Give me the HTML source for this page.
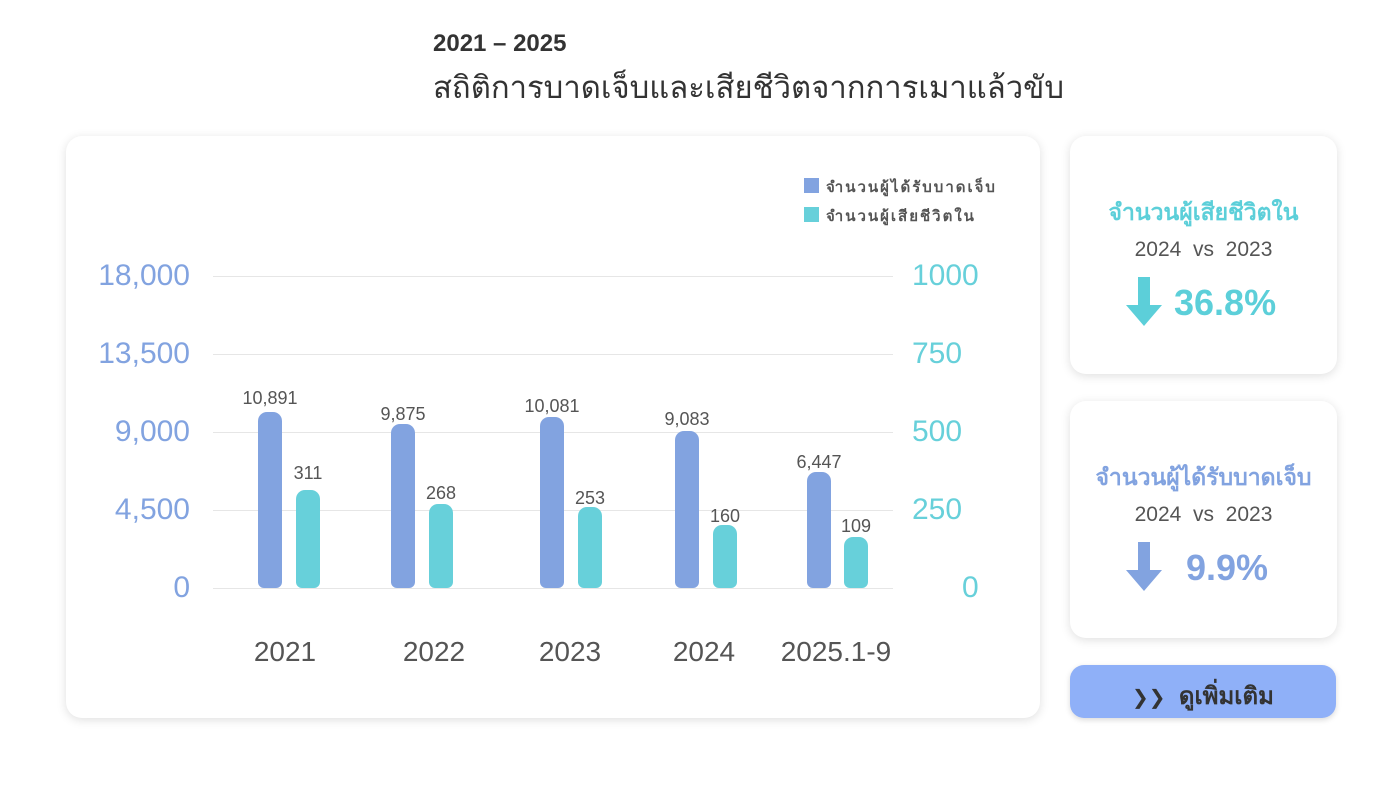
<!DOCTYPE html>
<html><head><meta charset="utf-8"><style>
body{margin:0;width:1400px;height:790px;background:#fff;font-family:"Liberation Sans","DejaVu Sans",sans-serif;position:relative;overflow:hidden}
.a{position:absolute}
.card{position:absolute;background:#fff;border-radius:16px;box-shadow:0 2px 10px rgba(0,0,0,0.13)}
.ly{position:absolute;width:100px;text-align:right;font-size:30px;color:#82a3e0;left:90px}
.ry{position:absolute;font-size:30px;color:#67d0da;left:912px}
.g{position:absolute;left:213px;width:680px;height:1px;background:#e6e6e6}
.b{position:absolute;width:24px;border-radius:9px 9px 6px 6px}
.bl{background:#82a3e0}.tl{background:#67d0da}
.v{position:absolute;font-size:18px;color:#555;width:80px;text-align:center}
.x{position:absolute;font-size:28px;color:#555;width:160px;text-align:center;top:636px}
.ct{position:absolute;width:267px;text-align:center}
</style></head><body>
<div class="a" style="left:433px;top:30px;font-size:24px;font-weight:bold;color:#333">2021 – 2025</div>
<div class="a" style="left:433px;top:62px;font-size:31px;color:#333">สถิติการบาดเจ็บและเสียชีวิตจากการเมาแล้วขับ</div>

<div class="card" style="left:66px;top:136px;width:974px;height:582px"></div>
<div class="a" style="left:804px;top:178px;width:15px;height:15px;background:#82a3e0"></div>
<div class="a" style="left:826px;top:175px;font-size:15px;font-weight:bold;color:#555;letter-spacing:2px">จำนวนผู้ได้รับบาดเจ็บ</div>
<div class="a" style="left:804px;top:207px;width:15px;height:15px;background:#67d0da"></div>
<div class="a" style="left:826px;top:204px;font-size:15px;font-weight:bold;color:#555;letter-spacing:2px">จำนวนผู้เสียชีวิตใน</div>

<div class="g" style="top:276px"></div><div class="g" style="top:354px"></div><div class="g" style="top:432px"></div><div class="g" style="top:510px"></div><div class="g" style="top:588px"></div>
<div class="ly" style="top:259px">18,000</div><div class="ly" style="top:337px">13,500</div><div class="ly" style="top:415px">9,000</div><div class="ly" style="top:493px">4,500</div><div class="ly" style="top:571px">0</div>
<div class="ry" style="top:259px">1000</div><div class="ry" style="top:337px">750</div><div class="ry" style="top:415px">500</div><div class="ry" style="top:493px">250</div><div class="ry" style="left:962px;top:571px">0</div>

<div class="b bl" style="left:258px;top:412px;height:176px"></div><div class="b tl" style="left:296px;top:490px;height:98px"></div>
<div class="b bl" style="left:391px;top:424px;height:164px"></div><div class="b tl" style="left:429px;top:504px;height:84px"></div>
<div class="b bl" style="left:540px;top:417px;height:171px"></div><div class="b tl" style="left:578px;top:507px;height:81px"></div>
<div class="b bl" style="left:675px;top:431px;height:157px"></div><div class="b tl" style="left:713px;top:525px;height:63px"></div>
<div class="b bl" style="left:807px;top:472px;height:116px"></div><div class="b tl" style="left:844px;top:537px;height:51px"></div>

<div class="v" style="left:230px;top:388px">10,891</div><div class="v" style="left:268px;top:463px">311</div>
<div class="v" style="left:363px;top:404px">9,875</div><div class="v" style="left:401px;top:483px">268</div>
<div class="v" style="left:512px;top:396px">10,081</div><div class="v" style="left:550px;top:488px">253</div>
<div class="v" style="left:647px;top:409px">9,083</div><div class="v" style="left:685px;top:506px">160</div>
<div class="v" style="left:779px;top:452px">6,447</div><div class="v" style="left:816px;top:516px">109</div>

<div class="x" style="left:205px">2021</div><div class="x" style="left:354px">2022</div><div class="x" style="left:490px">2023</div><div class="x" style="left:624px">2024</div><div class="x" style="left:756px">2025.1-9</div>

<div class="card" style="left:1070px;top:136px;width:267px;height:238px"></div>
<div class="ct" style="left:1070px;top:195px;font-size:23px;font-weight:bold;color:#5ccfd9">จำนวนผู้เสียชีวิตใน</div>
<div class="ct" style="left:1070px;top:238px;font-size:21px;color:#555">2024 &nbsp;vs&nbsp; 2023</div>
<svg class="a" style="left:1124px;top:277px" width="40" height="50"><polygon points="14,0 26,0 26,28 38,28 20,49 2,28 14,28" fill="#5ccfd9"/></svg>
<div class="a" style="left:1174px;top:282px;font-size:36px;font-weight:bold;color:#5ccfd9">36.8%</div>

<div class="card" style="left:1070px;top:401px;width:267px;height:237px"></div>
<div class="ct" style="left:1070px;top:460px;font-size:23px;font-weight:bold;color:#82a3e0">จำนวนผู้ได้รับบาดเจ็บ</div>
<div class="ct" style="left:1070px;top:503px;font-size:21px;color:#555">2024 &nbsp;vs&nbsp; 2023</div>
<svg class="a" style="left:1124px;top:542px" width="40" height="50"><polygon points="14,0 26,0 26,28 38,28 20,49 2,28 14,28" fill="#82a3e0"/></svg>
<div class="a" style="left:1186px;top:547px;font-size:36px;font-weight:bold;color:#82a3e0">9.9%</div>

<div class="a" style="left:1070px;top:665px;width:266px;height:53px;border-radius:14px;background:#8fb0f8;box-shadow:0 2px 6px rgba(0,0,0,0.15)"></div>
<div class="a" style="left:1132px;top:676px;font-size:24px;font-weight:bold;color:#333"><span style="font-size:20px">&#x276F;&#x276F;</span>&nbsp; ดูเพิ่มเติม</div>
</body></html>
